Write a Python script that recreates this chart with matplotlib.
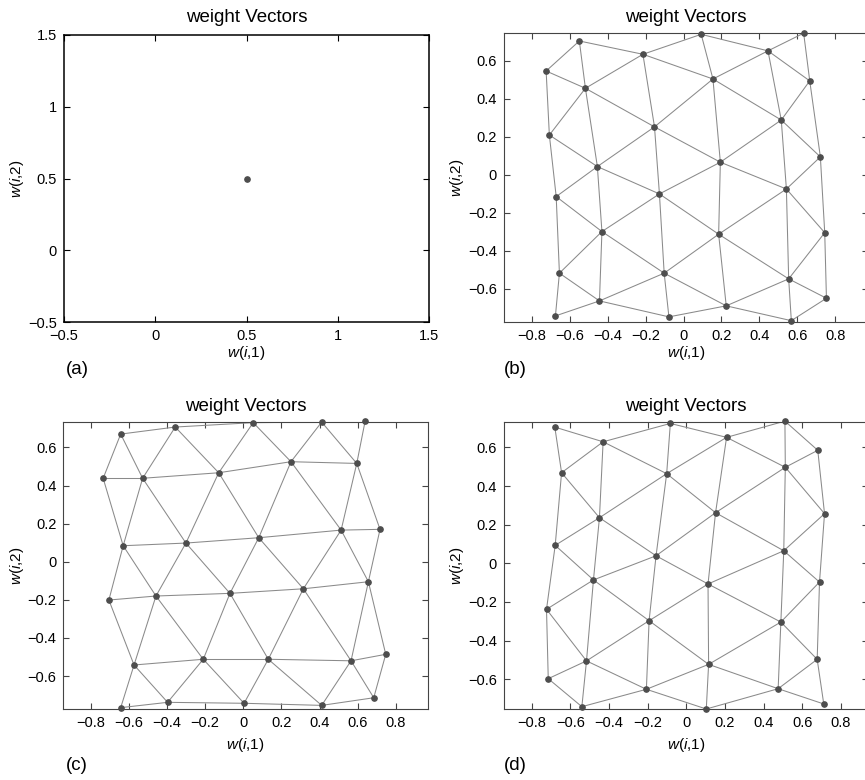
import numpy as np
import matplotlib
matplotlib.use("Agg")
import matplotlib.pyplot as plt
from matplotlib.ticker import FuncFormatter, FixedLocator

plt.rcParams['font.family'] = ['Liberation Sans', 'DejaVu Sans']
plt.rcParams['mathtext.fontset'] = 'custom'
plt.rcParams['mathtext.rm'] = 'Liberation Sans'
plt.rcParams['mathtext.it'] = 'Liberation Sans:italic'

# ---------------- data ----------------
# (a) initial weight vector
a_x = [0.5]
a_y = [0.5]

# (b) 6 columns x 5 nodes (top -> bottom); even columns sit lower
b_x = [[-0.724, -0.707, -0.671, -0.654, -0.675],
       [-0.549, -0.517, -0.454, -0.430, -0.443],
       [-0.214, -0.153, -0.127, -0.102, -0.077],
       [0.093, 0.155, 0.194, 0.185, 0.225],
       [0.445, 0.515, 0.542, 0.554, 0.568],
       [0.633, 0.665, 0.721, 0.744, 0.753]]
b_y = [[0.547, 0.210, -0.114, -0.517, -0.742],
       [0.705, 0.456, 0.044, -0.298, -0.663],
       [0.635, 0.253, -0.100, -0.517, -0.747],
       [0.740, 0.505, 0.067, -0.312, -0.689],
       [0.653, 0.289, -0.074, -0.547, -0.767],
       [0.746, 0.495, 0.095, -0.304, -0.649]]

# (c) 6 rows x 5 nodes (left -> right); even rows shifted right
c_x = [[-0.643, -0.357, 0.052, 0.411, 0.639],
       [-0.735, -0.528, -0.129, 0.250, 0.595],
       [-0.630, -0.301, 0.081, 0.513, 0.717],
       [-0.705, -0.458, -0.070, 0.315, 0.656],
       [-0.573, -0.210, 0.131, 0.565, 0.747],
       [-0.643, -0.397, 0.004, 0.411, 0.684]]
c_y = [[0.670, 0.707, 0.730, 0.733, 0.739],
       [0.438, 0.438, 0.467, 0.525, 0.516],
       [0.084, 0.098, 0.126, 0.166, 0.170],
       [-0.201, -0.180, -0.166, -0.142, -0.105],
       [-0.542, -0.512, -0.512, -0.520, -0.486],
       [-0.766, -0.738, -0.743, -0.754, -0.714]]

# (d) 6 columns x 5 nodes (top -> bottom); odd columns sit lower
d_x = [[-0.681, -0.646, -0.679, -0.724, -0.715],
       [-0.431, -0.450, -0.481, -0.517, -0.541],
       [-0.083, -0.102, -0.157, -0.193, -0.207],
       [0.208, 0.151, 0.112, 0.115, 0.103],
       [0.510, 0.512, 0.504, 0.489, 0.475],
       [0.680, 0.715, 0.689, 0.677, 0.711]]
d_y = [[0.705, 0.469, 0.093, -0.238, -0.597],
       [0.629, 0.236, -0.086, -0.505, -0.742],
       [0.724, 0.464, 0.039, -0.297, -0.652],
       [0.652, 0.262, -0.107, -0.523, -0.754],
       [0.736, 0.497, 0.065, -0.304, -0.649],
       [0.585, 0.257, -0.097, -0.497, -0.728]]

som_ticks = [-0.8, -0.6, -0.4, -0.2, 0, 0.2, 0.4, 0.6, 0.8]
som_yticks = [-0.6, -0.4, -0.2, 0, 0.2, 0.4, 0.6]
a_ticks = [-0.5, 0, 0.5, 1, 1.5]
title_text = "weight Vectors"
xlabel_text = r"$w$($i$,1)"
ylabel_text = r"$w$($i$,2)"
panel_labels = ["(a)", "(b)", "(c)", "(d)"]

# ---------------- helpers ----------------
W, H = 865, 780
fig = plt.figure(figsize=(W / 100, H / 100), dpi=100)


def rect(l, r, t, b):
    return [l / W, 1 - b / H, (r - l) / W, (b - t) / H]


def hex_edges(n_lines, n_per, shifted_parity):
    pos = {}
    for i in range(n_lines):
        for k in range(n_per):
            u = k + (0.5 if i % 2 == shifted_parity else 0.0)
            v = i * np.sqrt(3) / 2
            pos[(i, k)] = (u, v)
    keys = list(pos)
    edges = []
    for m in range(len(keys)):
        for n in range(m + 1, len(keys)):
            p, q = pos[keys[m]], pos[keys[n]]
            if np.hypot(p[0] - q[0], p[1] - q[1]) < 1.01:
                edges.append((keys[m], keys[n]))
    return edges


def fmt(v, pos):
    if abs(v) < 1e-9:
        return "0"
    s = "%g" % round(v, 3)
    return s.replace("-", "\u2212")


LINE_C = "#8a8a8a"
DOT_C = "#4d4d4d"


def style_axes(ax, xt, yt, spine_c, lw):
    ax.xaxis.set_major_locator(FixedLocator(xt))
    ax.yaxis.set_major_locator(FixedLocator(yt))
    ax.xaxis.set_major_formatter(FuncFormatter(fmt))
    ax.yaxis.set_major_formatter(FuncFormatter(fmt))
    ax.tick_params(direction="in", length=4, width=0.8, top=True, right=True,
                   labelsize=10.5, colors=spine_c, labelcolor="black", pad=5)
    for s in ax.spines.values():
        s.set_color(spine_c)
        s.set_linewidth(lw)


def draw_som(ax, X, Y, parity):
    X = np.asarray(X)
    Y = np.asarray(Y)
    for (i1, k1), (i2, k2) in hex_edges(X.shape[0], X.shape[1], parity):
        ax.plot([X[i1, k1], X[i2, k2]], [Y[i1, k1], Y[i2, k2]],
                color=LINE_C, lw=0.75, zorder=2, clip_on=True)
    ax.plot(X.ravel(), Y.ravel(), "o", ms=3.8, color=DOT_C, mec=DOT_C,
            zorder=3, clip_on=False)


axes_px = [
    (64, 429, 35, 322),
    (504, 868, 33, 322),
    (63.3, 427.7, 421.7, 709),
    (504, 868, 421.7, 709),
]
axs = [fig.add_axes(rect(*p)) for p in axes_px]

# (a)
ax = axs[0]
ax.plot(a_x, a_y, "o", ms=3.8, color=DOT_C)
ax.set_xlim(-0.5, 1.5)
ax.set_ylim(-0.5, 1.5)
style_axes(ax, a_ticks, a_ticks, "black", 1.1)

# (b)
ax = axs[1]
draw_som(ax, b_x, b_y, 0)
ax.set_xlim(-0.946, 0.972)
ax.set_ylim(-0.774, 0.747)
style_axes(ax, som_ticks, som_yticks, "#444444", 0.8)

# (c)
ax = axs[2]
draw_som(ax, c_x, c_y, 0)
ax.set_xlim(-0.944, 0.967)
ax.set_ylim(-0.773, 0.735)
style_axes(ax, som_ticks, som_yticks, "#444444", 0.8)

# (d)
ax = axs[3]
draw_som(ax, d_x, d_y, 1)
ax.set_xlim(-0.944, 0.940)
ax.set_ylim(-0.754, 0.733)
style_axes(ax, som_ticks, som_yticks, "#444444", 0.8)

# texts
title_y = [18, 18, 406, 406]
xlab_y = [353, 353, 745, 745]
plab_y = [370, 370, 765, 765]
ylab_x = [17, 457, 17, 457]
for i, (l, r, t, b) in enumerate(axes_px):
    cx = (l + r) / 2 if i in (0, 2) else 686
    fig.text(cx / W, 1 - title_y[i] / H, title_text, ha="center", va="center",
             fontsize=13.5)
    fig.text(cx / W, 1 - xlab_y[i] / H, xlabel_text, ha="center", va="center",
             fontsize=11)
    fig.text(ylab_x[i] / W, 1 - ((t + b) / 2) / H, ylabel_text, ha="center",
             va="center", rotation=90, fontsize=11)
    px = 77 if i in (0, 2) else 515
    fig.text(px / W, 1 - plab_y[i] / H, panel_labels[i], ha="center",
             va="center", fontsize=13.5)

fig.savefig("out.png", dpi=100)
